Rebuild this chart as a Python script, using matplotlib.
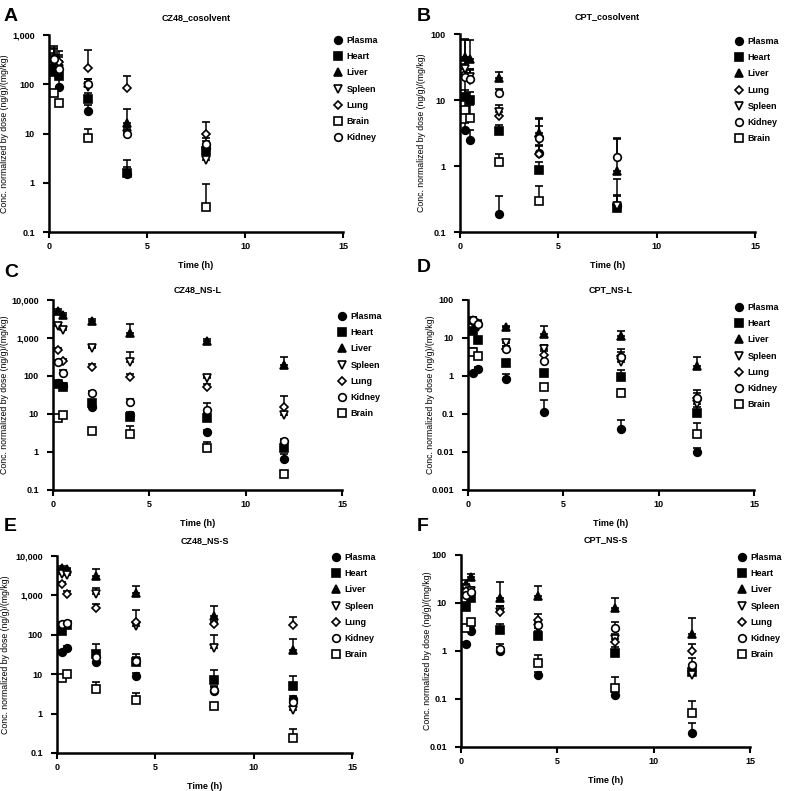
import numpy as np
import matplotlib
matplotlib.use('Agg')
import matplotlib.pyplot as plt
from matplotlib.ticker import FixedLocator, FuncFormatter

plt.rcParams['font.family'] = ['Liberation Sans', 'DejaVu Sans']
plt.rcParams['font.size'] = 6.5

nan = np.nan

# Время отбора проб (ч)
t_short = [0.25, 0.5, 2, 4, 8]
t_long = [0.25, 0.5, 2, 4, 8, 12]

# A: CZ48_cosolvent
a_mean = {
    'Plasma': [250, 90, 28, 1.5, 5],
    'Heart': [180, 150, 50, 1.6, 4.5],
    'Liver': [350, 250, 105, 16, 6],
    'Spleen': [280, 200, 90, 10, 2.9],
    'Lung': [300, 280, 210, 82, 10],
    'Brain': [66, 42, 8, nan, 0.32],
    'Kidney': [320, 200, 100, 10, 6],
}
a_err = {
    'Plasma': [150, 40, 10, 0.6, 1],
    'Heart': [100, 60, 15, 1.3, 1],
    'Liver': [200, 150, 20, 16, 2],
    'Spleen': [150, 100, 20, 3, 1],
    'Lung': [300, 200, 290, 63, 7.5],
    'Brain': [0, 0, 4.6, 0, 0.63],
    'Kidney': [200, 150, 30, 2, 1],
}

# B: CPT_cosolvent
b_mean = {
    'Plasma': [3.5, 2.5, 0.19, 1.6, 0.25],
    'Heart': [11, 10, 3.4, 0.86, 0.23],
    'Liver': [45, 42, 21.5, 3.2, 0.83],
    'Lung': [25, 20, 5.8, 1.5, 0.26],
    'Spleen': [30, 22, 6.5, 2.5, 0.25],
    'Kidney': [22, 21, 12.8, 2.65, 1.35],
    'Brain': [7, 5.3, 1.14, 0.29, nan],
}
b_err = {
    'Plasma': [1, 1, 0.16, 0.5, 0.38],
    'Heart': [3, 3, 0.8, 0.3, 0.04],
    'Liver': [40, 40, 5.5, 2.2, 1.8],
    'Lung': [10, 8, 1.5, 0.5, 0.1],
    'Spleen': [10, 8, 2, 1.5, 0.1],
    'Kidney': [8, 8, 2, 2.5, 1.2],
    'Brain': [75, 3, 0.4, 0.2, 0],
}

# C: CZ48_NS-L
c_mean = {
    'Plasma': [65, 55, 15, 9.5, 3.3, 0.66],
    'Heart': [60, 50, 20, 8.5, 7.8, 1.25],
    'Liver': [5200, 4000, 2870, 1380, 850, 195],
    'Spleen': [2070, 1600, 535, 240, 87, 9.4],
    'Lung': [480, 250, 170, 96, 50, 15],
    'Kidney': [240, 123, 35, 21, 13, 1.9],
    'Brain': [8, 9.5, 3.5, 3, 1.3, 0.27],
}
c_err = {
    'Plasma': [10, 10, 3, 2, 0.5, 0.2],
    'Heart': [10, 8, 4, 2, 3, 0.4],
    'Liver': [500, 500, 300, 910, 100, 125],
    'Spleen': [300, 200, 50, 200, 10, 2],
    'Lung': [50, 30, 40, 20, 10, 15],
    'Kidney': [30, 20, 5, 4, 6, 0.3],
    'Brain': [1, 1, 0.5, 1.8, 0.55, 0.05],
}

# D: CPT_NS-L
d_mean = {
    'Plasma': [1.17, 1.5, 0.85, 0.11, 0.04, 0.01],
    'Heart': [15, 8.9, 2.2, 1.17, 0.96, 0.105],
    'Liver': [30, 25, 19, 13, 11.3, 1.8],
    'Spleen': [25, 20, 7.2, 5, 2.3, 0.18],
    'Lung': [28, 22, 5, 3.6, 3.3, 0.26],
    'Kidney': [30, 24, 5, 2.5, 3.2, 0.26],
    'Brain': [4.4, 3.4, nan, 0.5, 0.35, 0.03],
}
d_err = {
    'Plasma': [0.1, 0.2, 0.25, 0.12, 0.03, 0.003],
    'Heart': [3, 2, 0.5, 0.3, 0.5, 0.05],
    'Liver': [5, 5, 2, 8, 4.3, 1.4],
    'Spleen': [5, 5, 1, 1.5, 0.5, 0.05],
    'Lung': [5, 4, 1, 1, 1, 0.17],
    'Kidney': [5, 4, 1, 1, 2, 0.1],
    'Brain': [1, 0.5, 0, 0.1, 0.1, 0.029],
}

# E: CZ48_NS-S
e_mean = {
    'Plasma': [37, 47, 21, 8.9, 3.7, 2.3],
    'Heart': [125, 180, 32, 20.6, 7.3, 5],
    'Liver': [5000, 4600, 3100, 1170, 300, 40],
    'Spleen': [3550, 3300, 1060, 166, 45, 1.26],
    'Lung': [1900, 1100, 490, 214, 183, 177],
    'Kidney': [183, 200, 28, 22, 4, 2],
    'Brain': [8.1, 10.2, 4.1, 2.2, 1.6, 0.24],
}
e_err = {
    'Plasma': [5, 5, 5, 2, 1, 0.5],
    'Heart': [30, 30, 25, 12, 5.7, 3.9],
    'Liver': [500, 500, 1500, 560, 235, 36],
    'Spleen': [500, 500, 500, 50, 55, 0.3],
    'Lung': [300, 200, 100, 200, 30, 103],
    'Kidney': [30, 30, 5, 5, 1, 0.5],
    'Brain': [1, 1, 2.2, 1.2, 0.3, 0.16],
}

# F: CPT_NS-S
f_mean = {
    'Plasma': [1.37, 2.6, 1.0, 0.31, 0.12, 0.02],
    'Heart': [8.3, 13, 2.7, 2.1, 0.89, 0.37],
    'Liver': [25, 35, 12.9, 14.2, 7.7, 2.3],
    'Spleen': [20, 18, 6.6, 3, 1.8, 0.32],
    'Lung': [18, 16, 6.6, 4.5, 1.55, 1.0],
    'Kidney': [15, 17, 1.1, 3.5, 3.0, 0.5],
    'Brain': [3, 4, nan, 0.55, 0.17, 0.05],
}
f_err = {
    'Plasma': [0.2, 0.5, 0.2, 0.05, 0.02, 0.011],
    'Heart': [2, 3, 1, 0.5, 0.3, 0.1],
    'Liver': [5, 5, 14, 8, 5.3, 2.6],
    'Spleen': [4, 4, 2, 1, 0.5, 0.1],
    'Lung': [4, 4, 2, 1.5, 0.5, 0.4],
    'Kidney': [3, 3, 0.3, 1, 1, 0.2],
    'Brain': [0.5, 0.5, 0, 0.26, 0.12, 0.039],
}

# Маркеры для органов: (форма, закрашен или нет)
markers = {
    'Plasma': ('o', True),
    'Heart': ('s', True),
    'Liver': ('^', True),
    'Spleen': ('v', False),
    'Lung': ('D', False),
    'Brain': ('s', False),
    'Kidney': ('o', False),
}

W, H = 786, 791
fig = plt.figure(figsize=(W / 100, H / 100), dpi=100)

# Панели: буква, заголовок, данные, ось y, положение в пикселях (x0, x15, верх, низ), ...
panels = [
    ('A', 'CZ48_cosolvent', t_short, a_mean, a_err, (0.1, 1000), (49, 343, 35, 232), 11, (4, 8), 5, (333, 36)),
    ('B', 'CPT_cosolvent', t_short, b_mean, b_err, (0.1, 100), (460, 755, 34, 232), 11, (417, 8), 422, (734, 37)),
    ('C', 'CZ48_NS-L', t_long, c_mean, c_err, (0.1, 10000), (53, 342, 300, 490), 6, (4, 264), 5, (337, 312)),
    ('D', 'CPT_NS-L', t_long, d_mean, d_err, (0.001, 100), (468, 754, 300, 490), 6, (417, 259), 431, (734, 303)),
    ('E', 'CZ48_NS-S', t_long, e_mean, e_err, (0.1, 10000), (57, 352, 556, 753), 9, (4, 518), 6, (331, 553)),
    ('F', 'CPT_NS-S', t_long, f_mean, f_err, (0.01, 100), (461, 750, 555, 747), 9.5, (417, 518), 428, (737, 553)),
]


def fmt(v, pos):
    if v >= 1:
        return '{:,.0f}'.format(v)
    return '{:g}'.format(v)


for letter, title, times, means, errs, ylim, box, tpad, lpos, ylab_x, legpos in panels:
    x0, x15, top, bottom = box
    ax = fig.add_axes([x0 / W, 1 - bottom / H, (x15 - x0) / W, (bottom - top) / H])

    handles = []
    for name, vals in means.items():
        m, filled = markers[name]
        y = np.array(vals, dtype=float)
        e = np.array(errs[name], dtype=float)
        eb = ax.errorbar(times, y, yerr=[np.zeros_like(e), e], fmt=m, color='black',
                         mfc='black' if filled else 'white', mec='black',
                         ms=5.5 if m != 'D' else 4.0, mew=1.2,
                         ecolor='black', elinewidth=1.1, capsize=2.6, capthick=1.1,
                         clip_on=False, zorder=3)
        handles.append((eb.lines[0], name))

    ax.set_yscale('log')
    ax.set_ylim(*ylim)
    ax.set_xlim(0, 15)
    decades = 10.0 ** np.arange(np.log10(ylim[0]), np.log10(ylim[1]) + 0.5)
    ax.yaxis.set_major_locator(FixedLocator(decades))
    ax.yaxis.set_minor_locator(FixedLocator([]))
    ax.yaxis.set_major_formatter(FuncFormatter(fmt))
    ax.set_xticks([0, 5, 10, 15])

    for s in ['top', 'right']:
        ax.spines[s].set_visible(False)
    for s in ['left', 'bottom']:
        ax.spines[s].set_linewidth(1.8)
    ax.tick_params(axis='both', width=1.5, length=4.2, labelsize=6.5)
    ax.tick_params(axis='y', pad=6)
    ax.tick_params(axis='x', pad=3)
    for lab in ax.get_xticklabels() + ax.get_yticklabels():
        lab.set_fontweight('bold')

    ax.set_title(title, fontsize=6.5, fontweight='bold', pad=tpad)
    ax.set_xlabel('Time (h)', fontsize=6.5, fontweight='bold', labelpad=7)
    ax.set_ylabel('Conc. normalized by dose (ng/g)/(mg/kg)', fontsize=6.3)
    ax.yaxis.set_label_coords((ylab_x + 4 - x0) / (x15 - x0), 0.5)

    fig.text(lpos[0] / W, 1 - lpos[1] / H, letter, fontsize=14, fontweight='bold',
             ha='left', va='top')

    leg = ax.legend([h for h, _ in handles], [n for _, n in handles],
                    loc='upper left', bbox_to_anchor=(legpos[0] / W, 1 - legpos[1] / H),
                    bbox_transform=fig.transFigure, frameon=False,
                    prop={'size': 6.5, 'weight': 'bold'},
                    handlelength=1.0, handletextpad=0.5, labelspacing=0.8,
                    borderpad=0, borderaxespad=0, numpoints=1)

fig.savefig('out.png', dpi=100)
